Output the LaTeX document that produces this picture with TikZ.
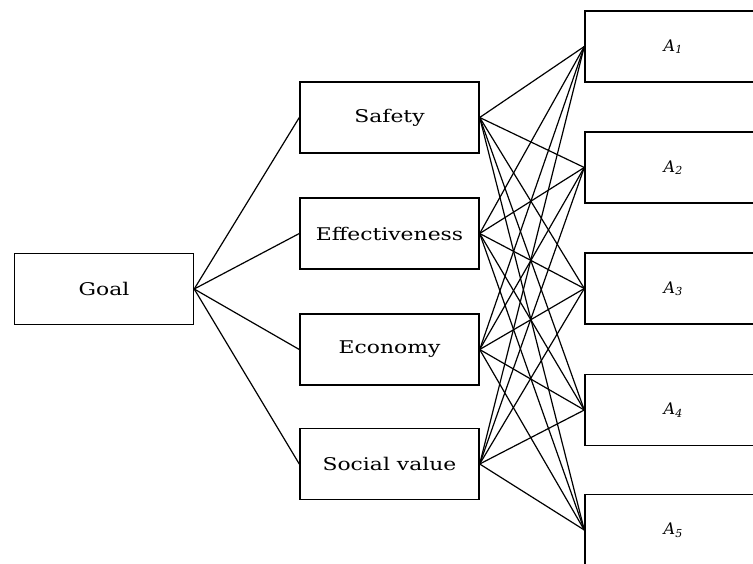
\documentclass[tikz,border=0pt]{standalone}
\usepackage{fontspec}
\newfontfamily\labelfont[FakeStretch=1.25]{DejaVu Serif}
\newfontfamily\altfont{DejaVu Serif}
\newcommand{\alt}[1]{\textit{A}\raisebox{-0.3ex}{\fontsize{11}{12}\selectfont\textit{#1}}}
\begin{document}
\begin{tikzpicture}[x=1pt,y=-1pt,
  box/.style={draw, line width=1.4pt, minimum width=179pt, minimum height=71pt,
    inner sep=0pt, font=\labelfont\fontsize{17.5}{20}\selectfont},
  altbox/.style={box, minimum width=176pt, font=\altfont\fontsize{16}{18}\selectfont},
  link/.style={line width=1.2pt}]
  \useasboundingbox (0,0) rectangle (753,563);
  \clip (0,0) rectangle (753,563);
  % goal level
  \node[box] (goal) at (104,289) {Goal};
  % criteria level
  \node[box] (c1) at (389.5,117.5) {Safety};
  \node[box] (c2) at (389.5,233.5) {Effectiveness};
  \node[box] (c3) at (389.5,349.5) {Economy};
  \node[box] (c4) at (389.5,464) {Social value};
  % alternatives level
  \node[altbox] (a1) at (673,46.5) {\alt{1}};
  \node[altbox] (a2) at (673,167.5) {\alt{2}};
  \node[altbox] (a3) at (673,288.5) {\alt{3}};
  \node[altbox] (a4) at (673,410) {\alt{4}};
  \node[altbox] (a5) at (673,530) {\alt{5}};
  % goal to criteria
  \foreach \c in {c1,c2,c3,c4}
    \draw[link] (goal.east) -- (\c.west);
  % every criterion to every alternative
  \foreach \c in {c1,c2,c3,c4}
    \foreach \a in {a1,a2,a3,a4,a5}
      \draw[link] (\c.east) -- (\a.west);
\end{tikzpicture}
\end{document}
